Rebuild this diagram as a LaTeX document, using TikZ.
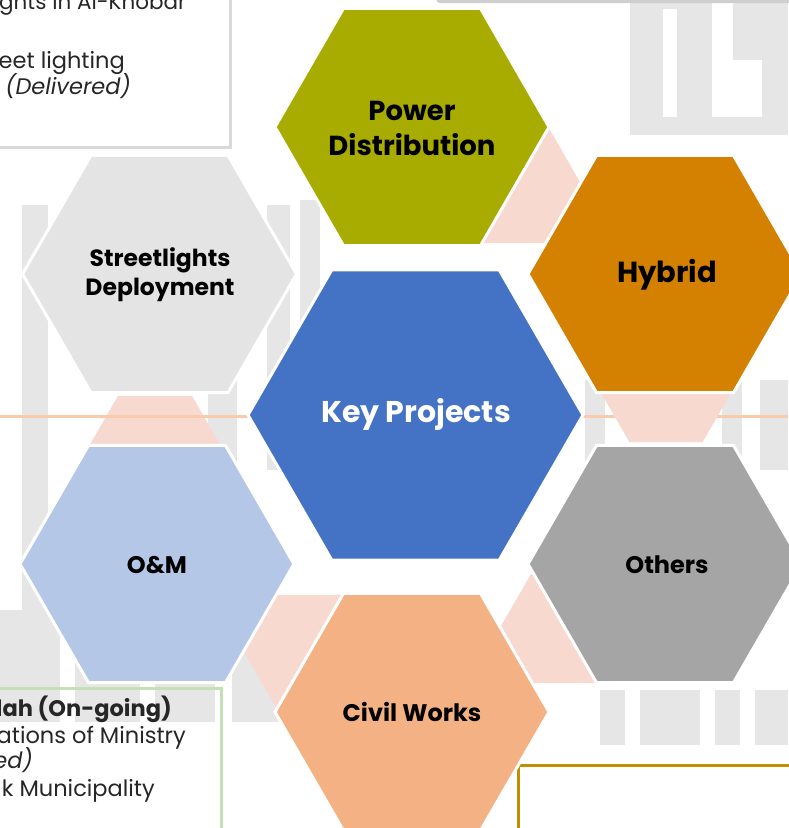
\documentclass[tikz,border=0pt]{standalone}
\usepackage{fontspec}
\setmainfont{Poppins}
\definecolor{pdc}{HTML}{A9AC00}
\definecolor{hyc}{HTML}{D48000}
\definecolor{keyc}{HTML}{4472C4}
\definecolor{slc}{HTML}{E4E4E4}
\definecolor{omc}{HTML}{B4C7E7}
\definecolor{otc}{HTML}{A5A5A5}
\definecolor{cwc}{HTML}{F4B183}
\definecolor{pinkc}{HTML}{F8D9D0}
\definecolor{wmc}{HTML}{E6E6E6}
\definecolor{linec}{HTML}{F8CBAD}
\definecolor{boxg}{HTML}{D9D9D9}
\definecolor{boxgtop}{HTML}{CFCFCF}
\definecolor{boxgreen}{HTML}{C5E0B4}
\definecolor{boxgold}{HTML}{BF9000}
\definecolor{txt}{HTML}{262626}
\tikzset{
  hexa/.pic={\path[pic actions] (0:1) -- (60:1) -- (120:1) -- (180:1) -- (240:1) -- (300:1) -- cycle;},
  bighex/.style={draw=white, line width=3pt},
  pinkhex/.style={fill=pinkc},
  lbl/.style={text=black, align=center, inner sep=0pt, font=\fontsize{24}{29}\selectfont\bfseries},
  body/.style={text=txt, inner sep=0pt, font=\fontsize{22.5}{25}\selectfont},
  wm/.style={fill=wmc}
}
\begin{document}
\begin{tikzpicture}[x=1pt,y=-1pt]
\useasboundingbox (0,0) rectangle (788,828);
\fill[white] (0,0) rectangle (788,828);
% watermark
\fill[wm] (630,3) rectangle (712,135);
\fill[white] (663,9) rectangle (677,117);
\fill[wm] (733,3) rectangle (788,60);
\fill[wm] (762,60) rectangle (788,135);
\fill[wm] (712,117) rectangle (788,135);
\fill[wm] (22,205) rectangle (48,700);
\fill[wm] (208,300) rectangle (237,600);
\fill[wm] (267,205) rectangle (290,470);
\fill[wm] (300,200) rectangle (320,470);
\fill[wm] (585,380) rectangle (605,470);
\fill[wm] (722,380) rectangle (742,470);
\fill[wm] (760,380) rectangle (788,470);
\fill[wm] (0,610) rectangle (60,722);
\fill[wm] (75,610) rectangle (140,722);
\fill[wm] (155,610) rectangle (215,722);
\fill[wm] (232,610) rectangle (290,722);
\fill[wm] (600,690) rectangle (625,745);
\fill[wm] (640,690) rectangle (700,745);
\fill[wm] (715,690) rectangle (740,745);
\fill[wm] (755,690) rectangle (788,745);
% text boxes
\fill[white] (-10,-10) rectangle (230,147);
\draw[boxg, line width=3pt] (-10,-10) rectangle (230,147);
\node[body, anchor=base west, font=\fontsize{21.5}{25}\selectfont] (t1) at (-1,9) {ghts in Al-Khobar};
\node[body, anchor=base east] (t2) at (125,68) {eet lighting};
\node[body, anchor=base east, font=\fontsize{22.5}{25}\selectfont\itshape] (t3) at (131,94) {(Delivered)};
\node[body, anchor=base east, font=\fontsize{22.5}{25}\selectfont\itshape] (t4) at (621,-2) {(Delivered)};
\draw[boxgtop, line width=3pt, rounded corners=2pt] (438,-20) -- (438,1.5) -- (800,1.5);
\draw[boxgreen, line width=3pt] (-10,688) -- (221,688) -- (221,840);
\node[body, anchor=base east, font=\fontsize{22.5}{25}\selectfont\bfseries] (b1) at (172,716) {lah (On-going)};
\node[body, anchor=base east] (b2) at (186,743) {ations of Ministry};
\node[body, anchor=base east, font=\fontsize{22.5}{25}\selectfont\itshape] (b3) at (33,768) {ed)};
\node[body, anchor=base east] (b4) at (155,796) {k Municipality};
\draw[boxgold, line width=3pt] (518,840) -- (518,765) -- (800,765);
% orange line
\draw[linec, line width=3pt] (583,416) -- (788,416);
% connectors
\pic[pinkhex, scale=70.5] at (509.5,182) {hexa};
\pic[pinkhex, scale=73] at (666,379) {hexa};
\pic[pinkhex, scale=63] at (562.5,628.6) {hexa};
\pic[pinkhex, scale=66] at (310,652) {hexa};
\pic[pinkhex, scale=74] at (155,460) {hexa};
\draw[linec, line width=3pt] (0,416) -- (248,416);
% hexagons
\pic[bighex, fill=pdc, scale=137] at (412,127) {hexa};
\pic[bighex, fill=hyc, scale=137] at (665,274) {hexa};
\pic[bighex, fill=otc, scale=137] at (665,564) {hexa};
\pic[bighex, fill=cwc, scale=137] at (412,712) {hexa};
\pic[bighex, fill=omc, scale=137] at (157,564) {hexa};
\pic[bighex, fill=slc, scale=137] at (159.5,274) {hexa};
\pic[bighex, fill=keyc, scale=167.5] at (415.5,415) {hexa};
% labels
\node[lbl, font=\fontsize{27.5}{35}\selectfont\bfseries] (pd) at (412,128) {Power\\Distribution};
\node[lbl, font=\fontsize{29}{30}\selectfont\bfseries] (hy) at (667,275) {Hybrid};
\node[lbl, font=\fontsize{23.5}{29}\selectfont\bfseries] (sl) at (160,275) {Streetlights\\Deployment};
\node[lbl, text=white, font=\fontsize{30}{32}\selectfont\bfseries] (key) at (416,414) {Key Projects};
\node[lbl] (om) at (157,565) {O\&M};
\node[lbl] (ot) at (667,565) {Others};
\node[lbl] (cw) at (412,712) {Civil Works};
\end{tikzpicture}
\end{document}
